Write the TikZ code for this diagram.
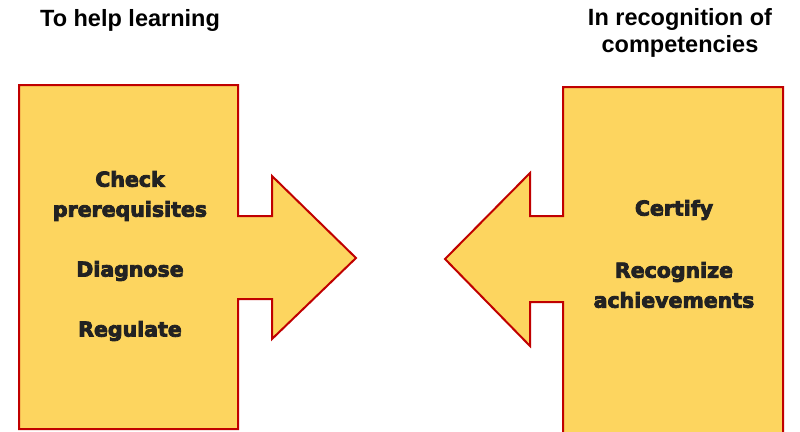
\documentclass[tikz,border=0pt]{standalone}
\usepackage{fontspec}
\setmainfont{Liberation Sans}
\newfontfamily\heavy[FakeBold=4]{DejaVu Sans Bold}
\newfontfamily\titlefont{Liberation Sans Bold}
\definecolor{arrowfill}{HTML}{FDD55F}
\definecolor{arrowline}{HTML}{C00000}
\definecolor{labeltext}{HTML}{222222}
\begin{document}
\begin{tikzpicture}[x=1pt,y=-1pt,
  arrowshape/.style={fill=arrowfill,draw=arrowline,line width=2pt,line join=miter},
  title/.style={font=\fontsize{23.5}{27}\selectfont\titlefont,align=center,inner sep=0pt,text=black},
  item/.style={font=\fontsize{20.5}{30}\selectfont\heavy,align=center,inner sep=0pt,text=labeltext}]
\useasboundingbox (0,0) rectangle (800,431);
% left arrow
\draw[arrowshape] (19,85) -- (238,85) -- (238,216) -- (272,216) -- (272,176) -- (356,258)
  -- (272,339) -- (272,299) -- (238,299) -- (238,429) -- (19,429) -- cycle;
% right arrow
\draw[arrowshape] (563,87) -- (783,87) -- (783,433) -- (563,433) -- (563,302) -- (530,302)
  -- (530,346) -- (445,259) -- (530,173) -- (530,216) -- (563,216) -- cycle;
% titles
\node[title] (t1) at (130,20) {To help learning};
\node[title] (t2) at (680,33) {In recognition of\\competencies};
% items
\node[item] (check) at (130,196) {Check\\prerequisites};
\node[item] (diag) at (130,271) {Diagnose};
\node[item] (reg) at (130,331) {Regulate};
\node[item] (cert) at (674,210) {Certify};
\node[item] (recog) at (674,285) {Recognize\\achievements};
\end{tikzpicture}
\end{document}
